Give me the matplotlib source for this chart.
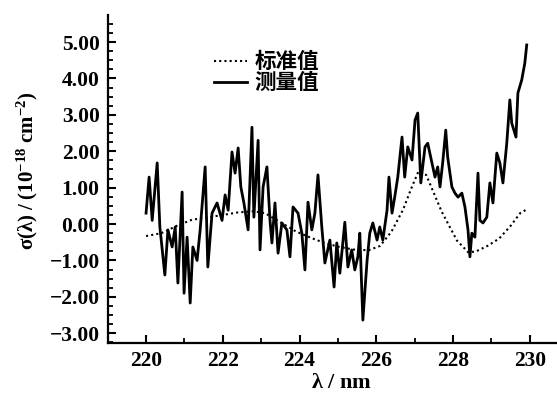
import matplotlib
matplotlib.use("Agg")
import matplotlib.pyplot as plt
from matplotlib.ticker import MultipleLocator, FuncFormatter

#%% data

# measured cross-section (solid)
wl_meas = [220.00, 220.08, 220.16, 220.29, 220.36, 220.49, 220.57, 220.68, 220.76, 220.83,
           220.94, 220.99, 221.07, 221.15, 221.22, 221.33, 221.41, 221.54, 221.61, 221.72,
           221.85, 221.98, 222.06, 222.14, 222.24, 222.32, 222.40, 222.47, 222.55, 222.66,
           222.76, 222.81, 222.92, 222.97, 223.05, 223.15, 223.23, 223.28, 223.36, 223.44,
           223.54, 223.67, 223.75, 223.83, 223.96, 224.06, 224.14, 224.22, 224.32, 224.40,
           224.48, 224.58, 224.66, 224.79, 224.90, 224.97, 225.05, 225.18, 225.26, 225.36,
           225.44, 225.52, 225.57, 225.65, 225.76, 225.83, 225.91, 226.02, 226.09, 226.17,
           226.28, 226.33, 226.41, 226.48, 226.56, 226.67, 226.74, 226.82, 226.93, 227.01,
           227.08, 227.16, 227.27, 227.34, 227.45, 227.53, 227.60, 227.66, 227.73, 227.81,
           227.86, 227.97, 228.05, 228.13, 228.23, 228.31, 228.39, 228.44, 228.49, 228.57,
           228.65, 228.70, 228.78, 228.88, 228.96, 229.04, 229.14, 229.22, 229.30, 229.40,
           229.48, 229.53, 229.64, 229.69, 229.79, 229.87, 229.92]
sig_meas = [0.30, 1.29, 0.10, 1.68, -0.08, -1.40, -0.16, -0.63, -0.08, -1.62,
            0.88, -1.90, -0.36, -2.17, -0.63, -1.00, -0.16, 1.57, -1.18, 0.30,
            0.58, 0.10, 0.80, 0.38, 1.98, 1.40, 2.09, 1.02, 0.58, -0.16,
            2.66, 0.19, 2.30, -0.71, 1.02, 1.57, 0.10, -0.52, 0.58, -0.80,
            0.03, -0.16, -0.90, 0.47, 0.30, -0.25, -1.26, 0.60, -0.16, 0.30,
            1.35, -0.08, -1.07, -0.44, -1.73, -0.52, -1.35, 0.05, -1.18, -0.71,
            -1.26, -0.90, -0.25, -2.64, -1.00, -0.25, 0.03, -0.44, -0.08, -0.44,
            0.38, 1.29, 0.30, 0.74, 1.29, 2.39, 1.29, 2.12, 1.76, 2.86,
            3.05, 1.13, 2.12, 2.22, 1.68, 1.29, 1.57, 1.02, 1.68, 2.58,
            1.84, 1.02, 0.85, 0.74, 0.85, 0.47, -0.16, -0.90, -0.25, -0.36,
            1.40, 0.10, 0.03, 0.19, 1.13, 0.58, 1.95, 1.68, 1.13, 2.22,
            3.41, 2.77, 2.39, 3.60, 3.96, 4.42, 4.92]

# standard values (dotted)
wl_std = [220.0, 220.4, 220.8, 221.2, 221.6, 222.0, 222.4, 222.8, 223.1, 223.5,
          223.9, 224.3, 224.6, 225.0, 225.4, 225.8, 226.1, 226.4, 226.7, 226.9,
          227.1, 227.3, 227.5, 227.7, 227.9, 228.1, 228.4, 228.6, 228.9, 229.2,
          229.5, 229.75, 229.95]
sig_std = [-0.33, -0.25, -0.05, 0.12, 0.18, 0.25, 0.32, 0.35, 0.30, 0.05,
           -0.20, -0.38, -0.50, -0.62, -0.70, -0.72, -0.60, -0.20, 0.40, 0.95,
           1.45, 1.35, 0.85, 0.35, -0.05, -0.45, -0.78, -0.75, -0.60, -0.40,
           -0.05, 0.30, 0.42]

labels = ["标准值", "测量值"]

#%% plot

plt.rcParams['font.family'] = ['Liberation Serif', 'DejaVu Serif']
plt.rcParams['font.weight'] = 'bold'
plt.rcParams['mathtext.fontset'] = 'custom'
plt.rcParams['mathtext.rm'] = 'Liberation Serif:bold'
plt.rcParams['mathtext.it'] = 'Liberation Serif:bold'
plt.rcParams['mathtext.bf'] = 'Liberation Serif:bold'

fig = plt.figure(figsize=(5.57, 3.98), dpi=100)
ax = fig.add_axes([0.194, 0.138, 0.804, 0.824])

ax.plot(wl_std, sig_std, color='black', lw=1.5, ls=(0, (1, 1.5)), label=labels[0])
ax.plot(wl_meas, sig_meas, color='black', lw=2.0, label=labels[1])

ax.set_xlim(219.01, 230.68)
ax.set_ylim(-3.27, 5.74)

for s in ['top', 'right']:
    ax.spines[s].set_visible(False)
for s in ['left', 'bottom']:
    ax.spines[s].set_linewidth(1.6)

ax.xaxis.set_major_locator(MultipleLocator(2))
ax.xaxis.set_minor_locator(MultipleLocator(1))
ax.yaxis.set_major_locator(MultipleLocator(1))
ax.yaxis.set_minor_locator(MultipleLocator(0.25))
ax.yaxis.set_major_formatter(FuncFormatter(lambda v, p: f"{v:.2f}".replace('-', '\u2212')))
ax.tick_params(which='major', direction='in', length=6, width=1.5, labelsize=15.5, pad=6)
ax.tick_params(which='minor', direction='in', length=3.5, width=1.3)

ax.set_xlabel(r'$\lambda$ / nm', fontsize=16, fontweight='bold', va='center')
ax.xaxis.set_label_coords(0.521, -0.122)
ax.set_ylabel(r'$\sigma(\lambda)\;/\;(10^{-18}\;\mathrm{cm}^{-2})$', fontsize=15,
              va='center', ha='center')
ax.yaxis.set_label_coords(-0.18, 0.524)

leg = ax.legend(loc='center left', bbox_to_anchor=((214 - 108) / 449, 1 - (72 - 15) / 328),
                frameon=False, borderaxespad=0, borderpad=0, handlelength=1.55,
                handletextpad=0.35, labelspacing=0.0,
                prop={'family': ['Noto Sans CJK SC'], 'weight': 'bold', 'size': 15.5})

fig.savefig('out.png', dpi=100)
